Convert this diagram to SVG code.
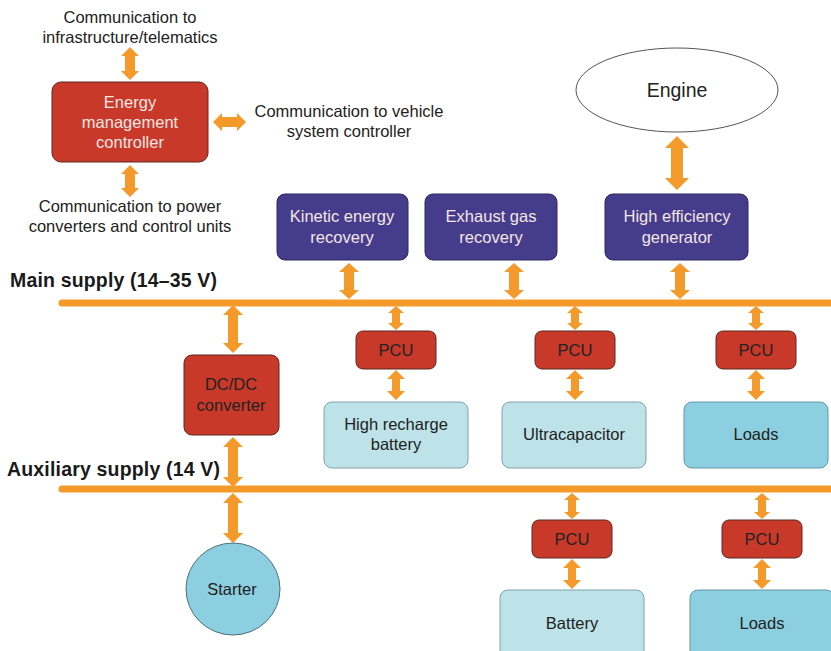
<svg xmlns="http://www.w3.org/2000/svg" width="831" height="651" viewBox="0 0 831 651">
<style>
text{font-family:"Liberation Sans",Arial,sans-serif;font-size:16.5px;text-anchor:middle;fill:#222}
.cm{font-size:16.5px}
.lt{fill:#f3e6e3}
.bus{stroke:#f39a2b;stroke-width:7;fill:none;stroke-linecap:round}
.arr{fill:#f39a2b}
.red{fill:#c8392a;stroke:#5a2a22;stroke-width:1}
.pur{fill:#463c8c;stroke:#2e2860;stroke-width:1}
.lb{fill:#bde2e8;stroke:#7fa2ab;stroke-width:1}
.db{fill:#8ccfe0;stroke:#5f98a8;stroke-width:1}
.lbl{font-weight:bold;font-size:19.5px;text-anchor:start;fill:#1a1a1a}
</style>
<rect width="831" height="651" fill="#ffffff"/>
<g id="connectors">
<line class="bus" x1="62" y1="303" x2="835" y2="303"/>
<line class="bus" x1="62" y1="489" x2="835" y2="489"/>
<path class="arr" d="M130,47 L139,56 L135,56 L135,71 L139,71 L130,80 L121,71 L125,71 L125,56 L121,56 Z"/>
<path class="arr" d="M213,122 L222,113 L222,117 L237,117 L237,113 L246,122 L237,131 L237,127 L222,127 L222,131 Z"/>
<path class="arr" d="M130,165 L139,174 L135,174 L135,188 L139,188 L130,197 L121,188 L125,188 L125,174 L121,174 Z"/>
<path class="arr" d="M677,136 L689,148 L683,148 L683,178 L689,178 L677,190 L665,178 L671,178 L671,148 L665,148 Z"/>
<path class="arr" d="M349,263 L359,272 L354,272 L354,290 L359,290 L349,299 L339,290 L344,290 L344,272 L339,272 Z"/>
<path class="arr" d="M514,263 L524,272 L519,272 L519,290 L524,290 L514,299 L504,290 L509,290 L509,272 L504,272 Z"/>
<path class="arr" d="M680,263 L690,272 L685,272 L685,290 L690,290 L680,299 L670,290 L675,290 L675,272 L670,272 Z"/>
<path class="arr" d="M233,305 L243,315 L238,315 L238,343 L243,343 L233,353 L223,343 L228,343 L228,315 L223,315 Z"/>
<path class="arr" d="M233,437 L243,447 L238,447 L238,477 L243,477 L233,487 L223,477 L228,477 L228,447 L223,447 Z"/>
<path class="arr" d="M233,493 L243,503 L238,503 L238,533 L243,533 L233,543 L223,533 L228,533 L228,503 L223,503 Z"/>
<path class="arr" d="M396,306 L404,313 L400,313 L400,323 L404,323 L396,330 L388,323 L392,323 L392,313 L388,313 Z"/>
<path class="arr" d="M396,370 L405,379 L400,379 L400,391 L405,391 L396,400 L387,391 L392,391 L392,379 L387,379 Z"/>
<path class="arr" d="M575,306 L583,313 L579,313 L579,323 L583,323 L575,330 L567,323 L571,323 L571,313 L567,313 Z"/>
<path class="arr" d="M575,370 L584,379 L579,379 L579,391 L584,391 L575,400 L566,391 L571,391 L571,379 L566,379 Z"/>
<path class="arr" d="M756,306 L764,313 L760,313 L760,323 L764,323 L756,330 L748,323 L752,323 L752,313 L748,313 Z"/>
<path class="arr" d="M756,370 L765,379 L760,379 L760,391 L765,391 L756,400 L747,391 L752,391 L752,379 L747,379 Z"/>
<path class="arr" d="M572,493 L580,500 L576,500 L576,512 L580,512 L572,519 L564,512 L568,512 L568,500 L564,500 Z"/>
<path class="arr" d="M572,559 L581,568 L576,568 L576,580 L581,580 L572,589 L563,580 L568,580 L568,568 L563,568 Z"/>
<path class="arr" d="M762,493 L770,500 L766,500 L766,512 L770,512 L762,519 L754,512 L758,512 L758,500 L754,500 Z"/>
<path class="arr" d="M762,559 L771,568 L766,568 L766,580 L771,580 L762,589 L753,580 L758,580 L758,568 L753,568 Z"/>
</g>
<g id="labels">
<text class="cm" x="130" y="23">Communication to</text>
<text class="cm" x="130" y="43">infrastructure/telematics</text>
<text class="cm" x="349" y="117">Communication to vehicle</text>
<text class="cm" x="349" y="137">system controller</text>
<text class="cm" x="130" y="212">Communication to power</text>
<text class="cm" x="130" y="232">converters and control units</text>
<text class="lbl" x="10" y="287" textLength="207">Main supply (14–35 V)</text>
<text class="lbl" x="7" y="476" textLength="213">Auxiliary supply (14 V)</text>
</g>
<g id="emc">
<rect class="red" x="52" y="82" width="156" height="80" rx="9"/>
<text class="lt" x="130" y="108">Energy</text>
<text class="lt" x="130" y="128">management</text>
<text class="lt" x="130" y="148">controller</text>
</g>
<g id="engine">
<ellipse cx="677" cy="90" rx="101" ry="42" fill="#fff" stroke="#555" stroke-width="1"/>
<text x="677" y="97" style="font-size:19.5px">Engine</text>
</g>
<g id="kinetic">
<rect class="pur" x="277" y="194" width="131" height="66" rx="8"/>
<text class="lt" x="342" y="222">Kinetic energy</text>
<text class="lt" x="342" y="243">recovery</text>
</g>
<g id="exhaust">
<rect class="pur" x="425" y="194" width="132" height="66" rx="8"/>
<text class="lt" x="491" y="222">Exhaust gas</text>
<text class="lt" x="491" y="243">recovery</text>
</g>
<g id="generator">
<rect class="pur" x="605" y="194" width="143" height="66" rx="8"/>
<text class="lt" x="677" y="222">High efficiency</text>
<text class="lt" x="677" y="243">generator</text>
</g>
<g id="dcdc">
<rect class="red" x="184" y="355" width="95" height="80" rx="8"/>
<text x="231" y="390">DC/DC</text>
<text x="231" y="411">converter</text>
</g>
<g id="pcu1">
<rect class="red" x="356" y="331" width="80" height="38" rx="7"/>
<text x="396" y="356">PCU</text>
</g>
<g id="pcu2">
<rect class="red" x="535" y="331" width="80" height="38" rx="7"/>
<text x="575" y="356">PCU</text>
</g>
<g id="pcu3">
<rect class="red" x="716" y="331" width="80" height="38" rx="7"/>
<text x="756" y="356">PCU</text>
</g>
<g id="hrbattery">
<rect class="lb" x="324" y="402" width="144" height="66" rx="8"/>
<text x="396" y="430">High recharge</text>
<text x="396" y="450">battery</text>
</g>
<g id="ultracap">
<rect class="lb" x="502" y="402" width="144" height="66" rx="8"/>
<text x="574" y="440">Ultracapacitor</text>
</g>
<g id="loads1">
<rect class="db" x="684" y="402" width="144" height="66" rx="8"/>
<text x="756" y="440">Loads</text>
</g>
<g id="starter">
<ellipse cx="233" cy="589" rx="47" ry="46" fill="#8ccfe0" stroke="#4f6f78" stroke-width="1"/>
<text x="232" y="595">Starter</text>
</g>
<g id="pcu4">
<rect class="red" x="532" y="520" width="80" height="38" rx="7"/>
<text x="572" y="545">PCU</text>
</g>
<g id="pcu5">
<rect class="red" x="722" y="520" width="80" height="38" rx="7"/>
<text x="762" y="545">PCU</text>
</g>
<g id="battery">
<rect class="lb" x="500" y="590" width="144" height="70" rx="8"/>
<text x="572" y="629">Battery</text>
</g>
<g id="loads2">
<rect class="db" x="690" y="590" width="144" height="70" rx="8"/>
<text x="762" y="629">Loads</text>
</g>
</svg>
